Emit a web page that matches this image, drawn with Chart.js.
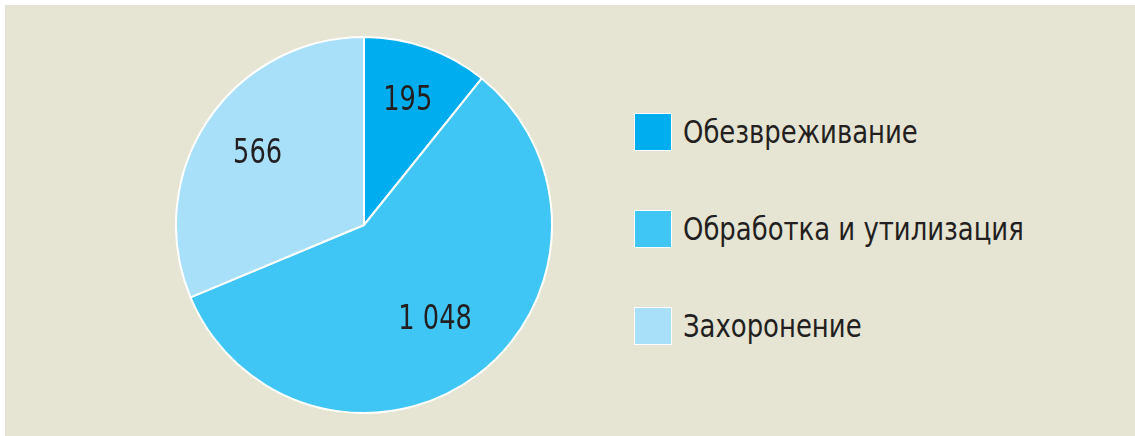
<!DOCTYPE html>
<html>
<head>
<meta charset="utf-8">
<script src="https://cdn.jsdelivr.net/npm/chart.js@4.4.1/dist/chart.umd.min.js"></script>
<style>
    html, body { margin: 0; padding: 0; background: #ffffff; }
    #frame {
        position: absolute; left: 5px; top: 5px; width: 1130px; height: 431px;
        background: #e6e4d3;
    }
    #pieBox { position: absolute; left: 170px; top: 31px; width: 378px; height: 378px; }
    #legend {
        position: absolute; left: 629px; top: 108px;
        font-family: "DejaVu Sans Condensed", "Liberation Sans Narrow", sans-serif;
        font-size: 32px; color: #231f20;
    }
    .item { display: flex; align-items: center; height: 38px; margin-bottom: 59px; }
    .box { width: 36px; height: 36px; border: 1px solid #ffffff; margin-right: 11px; flex: none; }
    .item span { display: inline-block; transform: scaleX(0.9); transform-origin: left center; white-space: nowrap; }
</style>
</head>
<body>
<div id="frame">
    <div id="pieBox"><canvas id="pie"></canvas></div>
    <div id="legend"></div>
</div>
<script>
const categories = ['Обезвреживание', 'Обработка и утилизация', 'Захоронение'];
const values = [195, 1048, 566];
const valueLabels = ['195', '1 048', '566'];
const colors = ['#00aeef', '#40c6f4', '#a8e0f9'];

// подписи значений внутри секторов
const sliceLabels = {
    id: 'sliceLabels',
    afterDatasetsDraw(chart, args, opts) {
        const ctx = chart.ctx;
        const meta = chart.getDatasetMeta(0);
        ctx.save();
        ctx.font = '34px "DejaVu Sans Condensed", "Liberation Sans Narrow", sans-serif';
        ctx.fillStyle = '#231f20';
        ctx.textAlign = 'center';
        ctx.textBaseline = 'middle';
        meta.data.forEach((arc, i) => {
            const p = arc.getProps(['x', 'y', 'startAngle', 'endAngle', 'outerRadius'], true);
            const mid = (p.startAngle + p.endAngle) / 2;
            const r = p.outerRadius * opts.radius[i];
            const x = p.x + Math.cos(mid) * r;
            const y = p.y + Math.sin(mid) * r;
            ctx.save();
            ctx.translate(x, y);
            ctx.scale(0.84, 1);
            ctx.fillText(valueLabels[i], 0, 0);
            ctx.restore();
        });
        ctx.restore();
    }
};

new Chart(document.getElementById('pie'), {
    type: 'pie',
    data: {
        labels: categories,
        datasets: [{
            data: values,
            backgroundColor: colors,
            borderColor: '#ffffff',
            borderWidth: 2
        }]
    },
    options: {
        responsive: true,
        maintainAspectRatio: false,
        animation: false,
        layout: { padding: 0 },
        plugins: {
            legend: { display: false },
            tooltip: { enabled: false },
            sliceLabels: { radius: [0.7, 0.63, 0.68] }
        }
    },
    plugins: [sliceLabels]
});

// легенда
const legendEl = document.getElementById('legend');
categories.forEach((name, i) => {
    const item = document.createElement('div');
    item.className = 'item';
    const box = document.createElement('div');
    box.className = 'box';
    box.style.background = colors[i];
    const text = document.createElement('span');
    text.textContent = name;
    item.appendChild(box);
    item.appendChild(text);
    legendEl.appendChild(item);
});
</script>
</body>
</html>
